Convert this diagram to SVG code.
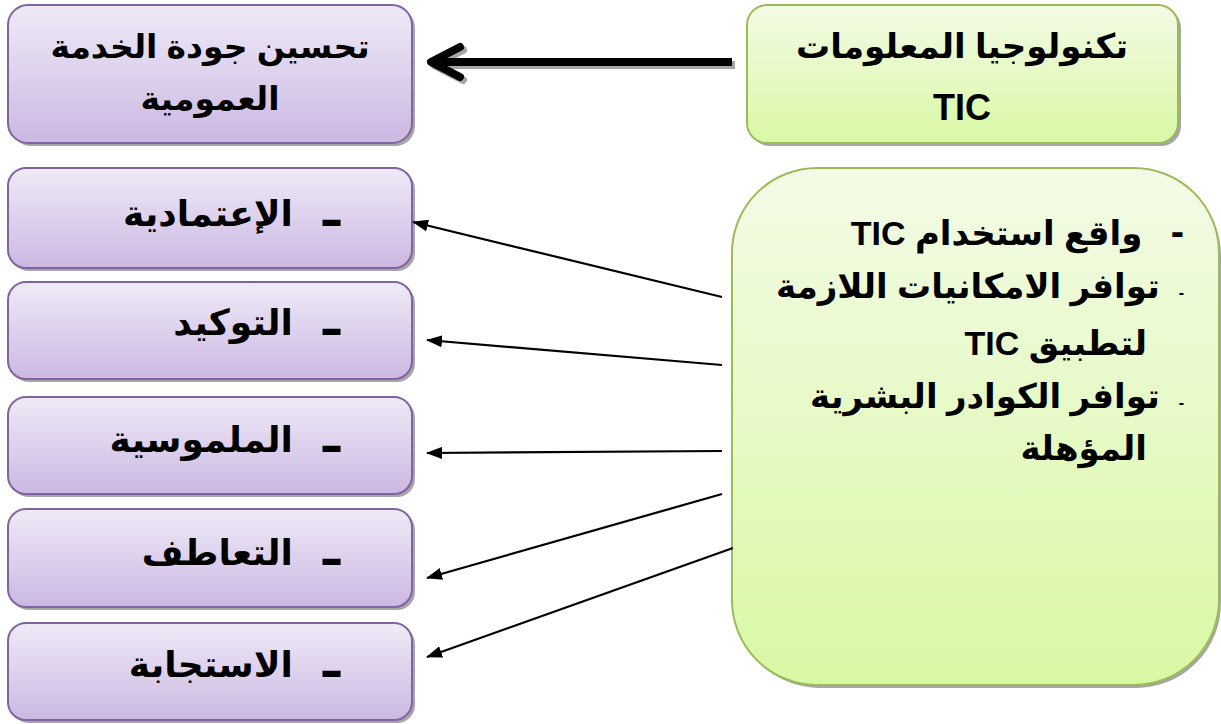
<svg xmlns="http://www.w3.org/2000/svg" width="1221" height="724" viewBox="0 0 1221 724">
<defs>
<linearGradient id="gP" x1="0" y1="0" x2="0" y2="1">
<stop offset="0" stop-color="#EFEAF7"/>
<stop offset="1" stop-color="#CCB8E2"/>
</linearGradient>
<linearGradient id="gG" x1="0" y1="0" x2="0" y2="1">
<stop offset="0" stop-color="#F3FBE6"/>
<stop offset="1" stop-color="#D9F8A4"/>
</linearGradient>
<marker id="ah2" viewBox="0 0 16 12" refX="15" refY="6" markerWidth="16" markerHeight="12" orient="auto" markerUnits="userSpaceOnUse">
<path d="M0,0 L16,6 L0,12 Z" fill="#000"/>
</marker>
</defs>
<style>
.sh{fill:#A6A6A6}
.pb{fill:url(#gP);stroke:#8064A2;stroke-width:2}
.gb{fill:url(#gG);stroke:#9BBB59;stroke-width:2}
.t{font-family:"Liberation Sans","DejaVu Sans",Arial,sans-serif;font-weight:bold;fill:#000}
.c{text-anchor:middle}
.r{direction:rtl;text-anchor:start}
.ln{stroke:#000;stroke-width:2.2;fill:none}
</style>

<g id="node-quality">
<rect class="sh" x="11" y="8" width="404" height="138" rx="20"/>
<rect class="pb" x="8" y="5" width="404" height="138" rx="20"/>
<text class="t c" x="210" y="58" font-size="33">تحسين جودة الخدمة</text>
<text class="t c" x="210" y="110" font-size="33">العمومية</text>
</g>

<g id="node-tic">
<rect class="sh" x="750" y="8" width="431" height="138" rx="20"/>
<rect class="gb" x="747" y="5" width="431" height="138" rx="20"/>
<text class="t c" x="962" y="58" font-size="34">تكنولوجيا المعلومات</text>
<text class="t c" x="962" y="120" font-size="36">TIC</text>
</g>

<g id="node-reliability">
<rect class="sh" x="11" y="171" width="404" height="100" rx="18"/>
<rect class="pb" x="8" y="168" width="404" height="100" rx="18"/>
<text class="t r" x="340" y="226" font-size="36" xml:space="preserve"><tspan font-size="50">ـ</tspan>   الإعتمادية</text>
</g>
<g id="node-assurance">
<rect class="sh" x="11" y="285" width="404" height="97" rx="18"/>
<rect class="pb" x="8" y="282" width="404" height="97" rx="18"/>
<text class="t r" x="340" y="335" font-size="36" xml:space="preserve"><tspan font-size="50">ـ</tspan>   التوكيد</text>
</g>
<g id="node-tangibility">
<rect class="sh" x="11" y="400" width="404" height="97" rx="18"/>
<rect class="pb" x="8" y="397" width="404" height="97" rx="18"/>
<text class="t r" x="340" y="452" font-size="36" xml:space="preserve"><tspan font-size="50">ـ</tspan>   الملموسية</text>
</g>
<g id="node-empathy">
<rect class="sh" x="11" y="512" width="404" height="98" rx="18"/>
<rect class="pb" x="8" y="509" width="404" height="98" rx="18"/>
<text class="t r" x="340" y="565" font-size="36" xml:space="preserve"><tspan font-size="50">ـ</tspan>   التعاطف</text>
</g>
<g id="node-responsiveness">
<rect class="sh" x="11" y="626" width="404" height="97" rx="18"/>
<rect class="pb" x="8" y="623" width="404" height="97" rx="18"/>
<text class="t r" x="340" y="677" font-size="36" xml:space="preserve"><tspan font-size="50">ـ</tspan>   الاستجابة</text>
</g>

<g id="node-factors">
<rect class="sh" x="735" y="171" width="486" height="517" rx="85"/>
<rect class="gb" x="732" y="168" width="487" height="517" rx="85"/>
<text class="t r" x="1184" y="245" font-size="34" xml:space="preserve"><tspan font-size="40">-</tspan>   واقع استخدام TIC</text>
<text class="t r" x="1184" y="298" font-size="34" xml:space="preserve"><tspan font-size="16">-</tspan>  توافر الامكانيات اللازمة</text>
<text class="t r" x="1147" y="355" font-size="34">لتطبيق TIC</text>
<text class="t r" x="1184" y="408" font-size="34" xml:space="preserve"><tspan font-size="16">-</tspan>  توافر الكوادر البشرية</text>
<text class="t r" x="1147" y="460" font-size="34">المؤهلة</text>
</g>

<g id="connectors">
<g transform="translate(3,3)" stroke="#A6A6A6" stroke-width="8" fill="none" stroke-linecap="round" stroke-linejoin="round">
<line x1="732" y1="62" x2="434" y2="62" stroke-linecap="butt"/>
<polyline points="460,47 431,62 460,77"/>
</g>
<g stroke="#000" stroke-width="8" fill="none" stroke-linecap="round" stroke-linejoin="round">
<line x1="732" y1="62" x2="434" y2="62" stroke-linecap="butt"/>
<polyline points="460,47 431,62 460,77"/>
</g>
<line class="ln" x1="722" y1="297" x2="413" y2="222" marker-end="url(#ah2)"/>
<line class="ln" x1="722" y1="365" x2="427" y2="340" marker-end="url(#ah2)"/>
<line class="ln" x1="722" y1="451" x2="427" y2="453" marker-end="url(#ah2)"/>
<line class="ln" x1="722" y1="494" x2="427" y2="578" marker-end="url(#ah2)"/>
<line class="ln" x1="733" y1="548" x2="427" y2="657" marker-end="url(#ah2)"/>
</g>
</svg>
